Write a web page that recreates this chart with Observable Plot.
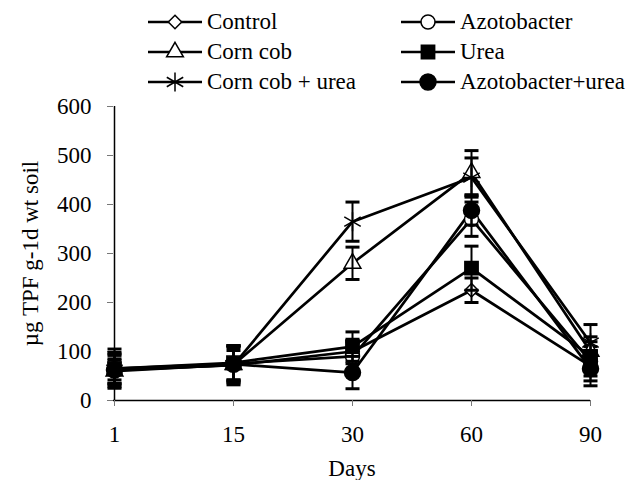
<!DOCTYPE html>
<html><head><meta charset="utf-8">
<script src="https://cdn.jsdelivr.net/npm/d3@7"></script>
<script src="https://cdn.jsdelivr.net/npm/@observablehq/plot@0.6"></script>
<style>
body{margin:0;background:#fff;font-family:'Liberation Serif','Times New Roman',serif;}
#legend{position:relative;height:90px;width:634px;}
.item{position:absolute;display:flex;align-items:center;font-family:'Liberation Serif','Times New Roman',serif;font-size:23px;height:26px;white-space:nowrap;color:#000}
.item svg{margin-right:5px}
#chart svg text{font-family:'Liberation Serif','Times New Roman',serif;}
</style></head><body>
<div id="legend"></div>
<div id="chart"></div>
<script>
const days = ["1", "15", "30", "60", "90"];
const yTicks = [0, 100, 200, 300, 400, 500, 600];
const seriesNames = ["Control", "Azotobacter", "Corn cob", "Urea", "Corn cob + urea", "Azotobacter+urea"];
const control = [62, 72, 100, 225, 70];
const controlErr = [20, 30, 25, 25, 30];
const azotobacter = [65, 75, 90, 370, 80];
const azotobacterErr = [40, 35, 30, 35, 30];
const cornCob = [60, 73, 280, 465, 100];
const cornCobErr = [25, 35, 33, 45, 30];
const urea = [65, 77, 110, 270, 90];
const ureaErr = [30, 35, 30, 45, 30];
const cornCobUrea = [63, 72, 365, 455, 118];
const cornCobUreaErr = [35, 40, 40, 40, 37];
const azotobacterUrea = [62, 74, 57, 388, 65];
const azotobacterUreaErr = [30, 38, 33, 30, 35];

const values = [control, azotobacter, cornCob, urea, cornCobUrea, azotobacterUrea];
const errors = [controlErr, azotobacterErr, cornCobErr, ureaErr, cornCobUreaErr, azotobacterUreaErr];
const styles = [
  {symbol: "diamond2", r: 6, fill: "white"},
  {symbol: "circle", r: 7, fill: "white"},
  {symbol: "triangle2", r: 8, fill: "white"},
  {symbol: "square", r: 7.5, fill: "black"},
  {symbol: "asterisk", r: 9, fill: "none"},
  {symbol: "circle", r: 8, fill: "black"}
];

const rows = seriesNames.flatMap((s, i) => days.map((d, j) => ({
  series: s, day: d, v: values[i][j], lo: values[i][j] - errors[i][j], hi: values[i][j] + errors[i][j]
})));

const hline = {draw(ctx, size) { const r = Math.sqrt(size / Math.PI); ctx.moveTo(-r, 0); ctx.lineTo(r, 0); }};

const font = "'Liberation Serif', 'Times New Roman', serif";
const marks = [
  Plot.ruleY([0], {stroke: "black", strokeWidth: 1.5}),
  Plot.ruleX([days[0]], {y1: 0, y2: 600, stroke: "black", strokeWidth: 1.5}),
  Plot.axisY({ticks: yTicks, tickSize: 6, tickPadding: 16, stroke: "#777", fill: "black", label: null, fontSize: 23}),
  Plot.axisX({tickSize: 6, tickPadding: 19, stroke: "#777", fill: "black", label: null, fontSize: 23}),
  Plot.text(["µg TPF g-1d wt soil"], {frameAnchor: "left", textAnchor: "middle", dx: -83, rotate: -90, fontSize: 23, fill: "black"}),
  Plot.text(["Days"], {frameAnchor: "bottom", dy: 68, lineAnchor: "middle", fontSize: 23, fill: "black"}),
  Plot.line(rows, {x: "day", y: "v", z: "series", stroke: "black", strokeWidth: 2.7})
];
seriesNames.forEach((s, i) => {
  const data = rows.filter(d => d.series === s);
  const st = styles[i];
  marks.push(Plot.dot(data, {x: "day", y: "v", symbol: () => st.symbol, r: st.r, fill: st.fill, stroke: "black", strokeWidth: 1.5}));
  marks.push(Plot.ruleX(data, {x: "day", y1: "lo", y2: "hi", stroke: "black", strokeWidth: 2}));
  marks.push(Plot.dot(data, {x: "day", y: "lo", symbol: hline, r: 7, stroke: "black", strokeWidth: 3}));
  marks.push(Plot.dot(data, {x: "day", y: "hi", symbol: hline, r: 7, stroke: "black", strokeWidth: 3}));
});

const chart = Plot.plot({
  width: 634, height: 390,
  marginTop: 16, marginBottom: 80, marginLeft: 113, marginRight: 44,
  style: {fontFamily: font, fontSize: "23px", background: "white", color: "black", overflow: "visible"},
  x: {type: "point", domain: days, padding: 0},
  y: {domain: [0, 600]},
  symbol: {type: "identity"},
  marks
});
document.getElementById("chart").appendChild(chart);

// legend
const legend = document.getElementById("legend");
const symMap = {diamond2: d3.symbolDiamond2, circle: d3.symbolCircle, triangle2: d3.symbolTriangle2, square: d3.symbolSquare, asterisk: d3.symbolAsterisk};
const pos = [[148, 22], [401, 22], [148, 52], [401, 52], [148, 82], [401, 82]];
seriesNames.forEach((s, i) => {
  const st = styles[i];
  const div = document.createElement("div");
  div.className = "item";
  div.style.left = pos[i][0] + "px";
  div.style.top = (pos[i][1] - 13) + "px";
  const path = d3.symbol(symMap[st.symbol], st.r * st.r * Math.PI)();
  div.innerHTML = `<svg width="54" height="26" viewBox="0 0 54 26"><line x1="0" x2="54" y1="13" y2="13" stroke="black" stroke-width="2.5"/><path transform="translate(27,13)" d="${path}" fill="${st.fill}" stroke="black" stroke-width="1.5"/></svg><span>${s}</span>`;
  legend.appendChild(div);
});
</script></body></html>
